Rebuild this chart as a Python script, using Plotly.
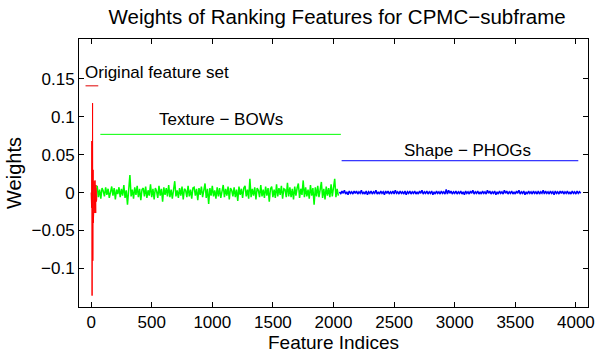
import plotly.graph_objects as go

# ---------------- data ----------------
red_x = [0, 2, 4, 6, 8, 10, 12, 14, 16, 18, 20, 22, 24, 26, 28, 30, 32, 34, 36, 38, 40, 42, 44, 46, 48]
red_y = [0.0, 0.040, -0.020, 0.068, -0.136, 0.050, 0.118, -0.090, 0.030, -0.040, 0.017, -0.025,
         0.015, -0.020, 0.012, -0.027, 0.016, -0.015, 0.012, -0.027, 0.010, -0.012, 0.008, -0.010, 0.006]

green_start, green_step = 50, 10
green_y = [
    0.009, -0.006, 0.004, -0.008, 0.006, 0.002, -0.005, 0.007, -0.003, 0.005, -0.007, 0.003, 0.008, -0.004, 0.006, -0.009, 0.004, -0.002, 0.007, -0.006,
    0.005, -0.004, 0.010, -0.007, 0.003, -0.016, 0.006, 0.023, -0.005, 0.004, -0.008, 0.007, -0.003, 0.009, -0.006, 0.005, -0.010, 0.004, 0.006, -0.005,
    0.008, -0.007, 0.003, -0.004, 0.011, -0.006, 0.005, -0.009, 0.006, 0.002, -0.007, 0.009, -0.004, 0.005, -0.012, 0.007, -0.003, 0.006, -0.005, 0.010,
    -0.006, 0.004, -0.008, 0.007, 0.015, -0.005, 0.003, -0.007, 0.006, -0.004, 0.008, -0.009, 0.005, 0.003, -0.006, 0.009, -0.005, 0.004, -0.008, 0.006,
    0.007, -0.004, 0.005, -0.010, 0.006, -0.003, 0.008, -0.006, 0.004, 0.012, -0.007, 0.005, -0.015, 0.006, -0.004, 0.009, -0.005, 0.003, -0.008, 0.007,
    -0.005, 0.006, -0.007, 0.004, 0.010, -0.006, 0.005, -0.004, 0.008, -0.009, 0.006, 0.003, -0.005, 0.007, -0.006, 0.004, -0.011, 0.008, -0.003, 0.005,
    -0.007, 0.006, 0.009, -0.005, 0.004, -0.008, 0.018, -0.006, 0.005, -0.004, 0.007, -0.009, 0.006, 0.003, -0.006, 0.010, -0.005, 0.004, -0.007, 0.008,
    -0.004, 0.006, -0.012, 0.005, 0.008, -0.006, 0.004, -0.007, 0.011, -0.005, 0.006, -0.003, 0.009, -0.008, 0.005, 0.004, -0.006, 0.013, -0.005, 0.007,
    -0.006, 0.005, -0.009, 0.008, -0.004, 0.006, 0.012, -0.007, 0.005, -0.003, 0.016, -0.006, 0.007, -0.005, 0.004, -0.008, 0.010, -0.004, 0.006, -0.016,
    0.007, -0.005, 0.009, -0.006, 0.004, 0.014, -0.007, 0.005, -0.009, 0.008, -0.004, 0.006, -0.006, 0.011, -0.005, 0.007, 0.018, -0.006, 0.005, -0.004,
]

blue_start, blue_step = 2050, 10
blue_y = [
    0.001, -0.002, 0.002, -0.001, 0.003, -0.002, 0.001, -0.003, 0.002, -0.001, 0.001, -0.002, 0.002, -0.001, 0.002, -0.002, 0.001, -0.001, 0.003, -0.002,
    0.001, -0.002, 0.002, -0.003, 0.001, -0.001, 0.002, -0.002, 0.001, -0.001, 0.003, -0.002, 0.001, -0.002, 0.002, -0.001, 0.001, -0.003, 0.002, -0.001,
    0.002, -0.002, 0.001, -0.001, 0.002, -0.002, 0.003, -0.001, 0.001, -0.002, 0.002, -0.001, 0.001, -0.002, 0.002, -0.003, 0.001, -0.001, 0.002, -0.002,
    0.001, -0.001, 0.002, -0.002, 0.001, -0.002, 0.002, -0.001, 0.003, -0.002, 0.001, -0.001, 0.002, -0.002, 0.001, -0.001, 0.002, -0.003, 0.001, -0.002,
    0.002, -0.001, 0.001, -0.002, 0.002, -0.001, 0.001, -0.002, 0.004, -0.002, 0.003, -0.001, 0.002, -0.002, 0.001, -0.001, 0.002, -0.002, 0.001, -0.001,
    0.002, -0.002, 0.001, -0.003, 0.002, -0.001, 0.001, -0.002, 0.002, -0.001, 0.003, -0.002, 0.001, -0.001, 0.002, -0.002, 0.001, -0.002, 0.002, -0.001,
    0.001, -0.002, 0.003, -0.001, 0.002, -0.002, 0.001, -0.001, 0.002, -0.003, 0.001, -0.002, 0.002, -0.001, 0.001, -0.002, 0.003, -0.001, 0.002, -0.002,
    0.001, -0.001, 0.002, -0.002, 0.001, -0.002, 0.002, -0.001, 0.003, -0.002, 0.001, -0.001, 0.002, -0.003, 0.001, -0.002, 0.002, -0.001, 0.001, -0.002,
    0.002, -0.001, 0.001, -0.002, 0.002, -0.002, 0.001, -0.001, 0.003, -0.002, 0.002, -0.001, 0.001, -0.002, 0.002, -0.001, 0.001, -0.003, 0.002, -0.001,
    0.001, -0.002, 0.002, -0.001, 0.002, -0.002, 0.001, -0.001, 0.002, -0.002, 0.001, -0.002, 0.002, -0.001, 0.001, -0.002, 0.002, -0.001, 0.001, -0.001,
]

# group marker lines (label bars)
groups = ["Original feature set", "Texture \u2212 BOWs", "Shape \u2212 PHOGs"]
group_x0 = [-46, 76, 2067]
group_x1 = [59, 2061, 4020]
group_level = [0.1408, 0.0768, 0.042]
group_colors = ["#e00000", "#00ff00", "#0000ff"]
label_x = [-63, 1068, 3102]
label_y = [0.159, 0.096, 0.055]
label_anchor = ["left", "center", "center"]

x_ticks = [0, 500, 1000, 1500, 2000, 2500, 3000, 3500, 4000]
y_ticks = [-0.1, -0.05, 0, 0.05, 0.1, 0.15]
y_ticktext = ["\u22120.1", "\u22120.05", "0", "0.05", "0.1", "0.15"]

# ---------------- figure ----------------
green_x = [green_start + i * green_step for i in range(len(green_y))]
blue_x = [blue_start + i * blue_step for i in range(len(blue_y))]

fig = go.Figure()
fig.add_trace(go.Scatter(x=red_x, y=red_y, mode="lines", line=dict(color="#ff0000", width=1)))
fig.add_trace(go.Scatter(x=green_x, y=green_y, mode="lines", line=dict(color="#00ff00", width=1.5)))
fig.add_trace(go.Scatter(x=blue_x, y=blue_y, mode="lines", line=dict(color="#0000ff", width=1.5)))

for x0, x1, lv, c in zip(group_x0, group_x1, group_level, group_colors):
    fig.add_trace(go.Scatter(x=[x0, x1], y=[lv, lv], mode="lines", line=dict(color=c, width=1)))

FONT = "Liberation Sans, Arial, Helvetica, sans-serif"
for txt, lx, ly, anc in zip(groups, label_x, label_y, label_anchor):
    fig.add_annotation(x=lx, y=ly, text=txt, showarrow=False, xanchor=anc, yanchor="middle",
                       font=dict(family=FONT, size=17, color="black"))

axis_common = dict(showline=True, linecolor="black", linewidth=1, mirror="ticks", ticks="inside",
                   ticklen=5, tickcolor="black", showgrid=False, zeroline=False,
                   tickfont=dict(family=FONT, size=17, color="black"))

fig.update_layout(
    width=603, height=354,
    margin=dict(l=79, r=8, t=39, b=40),
    paper_bgcolor="white", plot_bgcolor="white",
    showlegend=False,
    title=dict(text="Weights of Ranking Features for CPMC\u2212subframe", x=0.559, xanchor="center",
               y=0.952, yanchor="middle", font=dict(family=FONT, size=20.5, color="black")),
    xaxis=dict(range=[-100, 4100], tickvals=x_ticks,
               title=dict(text="Feature Indices", standoff=0, font=dict(family=FONT, size=19, color="black")),
               **axis_common),
    yaxis=dict(range=[-0.151, 0.2026], tickvals=y_ticks, ticktext=y_ticktext,
               title=dict(text="Weights", standoff=4, font=dict(family=FONT, size=20, color="black")),
               **axis_common),
)

fig.write_html("out.html")
